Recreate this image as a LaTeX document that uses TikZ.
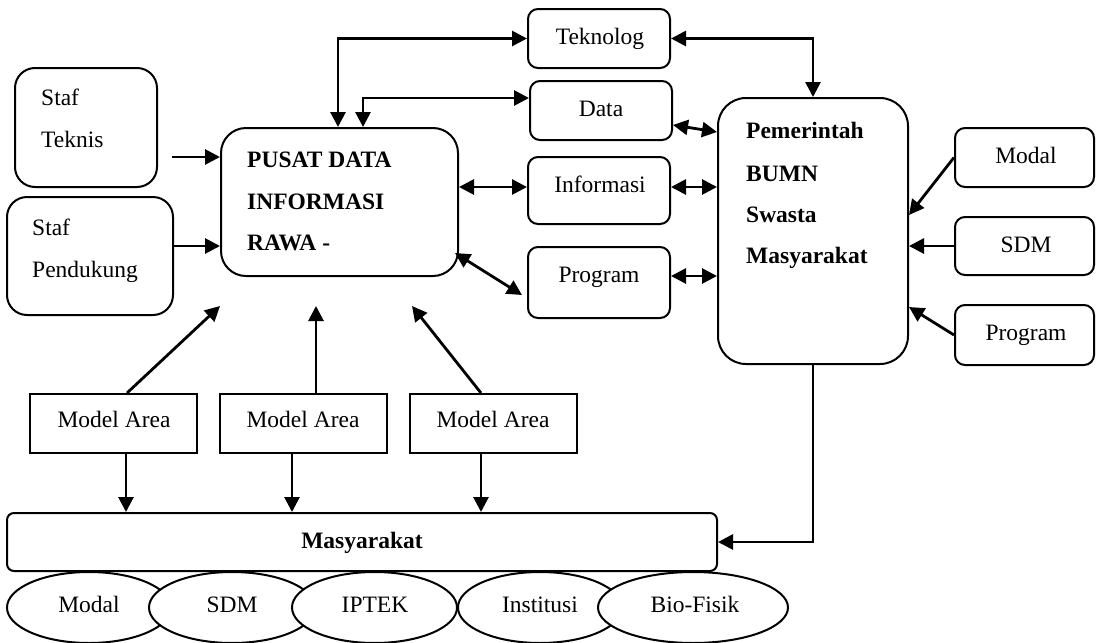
\documentclass[tikz,border=0pt]{standalone}
\usepackage{fontspec}
\setmainfont{Liberation Serif}
\usetikzlibrary{arrows.meta,shapes.geometric}
\begin{document}
\begin{tikzpicture}[x=1pt,y=-1pt,
  box/.style={draw, line width=2pt, inner sep=0pt},
  rbox/.style={box, rounded corners=#1},
  rbox/.default=10pt,
  oval/.style={ellipse, draw, fill=white, line width=2pt, inner sep=0pt, minimum height=71},
  txt/.style={font=\fontsize{23.5}{27}\selectfont, inner sep=0pt},
  btxt/.style={font=\fontsize{23.5}{27}\selectfont\bfseries, inner sep=0pt},
  tip/.tip={Triangle[length=15pt,width=15pt]},
  arr/.style={line width=2.8pt, -tip},
  arrr/.style={line width=2.8pt, tip-tip},
]
\useasboundingbox (0,0) rectangle (1096,643);

% boxes
\node[rbox=20pt, minimum width=142, minimum height=119] (stafT) at (86,127.5) {};
\node[rbox=20pt, minimum width=166, minimum height=118] (stafP) at (90,256) {};
\node[rbox=25pt, minimum width=237, minimum height=148] (pusat) at (339.5,202) {};
\node[rbox, minimum width=142, minimum height=59] (tekno) at (599,38.5) {};
\node[rbox, minimum width=142, minimum height=59] (data) at (601,110.5) {};
\node[rbox, minimum width=142, minimum height=67] (info) at (599,190.5) {};
\node[rbox, minimum width=142, minimum height=71] (prog) at (599,282.5) {};
\node[rbox=28pt, minimum width=190, minimum height=266] (pemer) at (813,231) {};
\node[rbox, minimum width=139, minimum height=59] (modalR) at (1024.5,157.5) {};
\node[rbox, minimum width=139, minimum height=58] (sdmR) at (1024.5,246) {};
\node[rbox, minimum width=139, minimum height=60] (progR) at (1024.5,335) {};
\node[box, minimum width=167, minimum height=59] (ma1) at (113.5,423.5) {};
\node[box, minimum width=167, minimum height=59] (ma2) at (303.5,423.5) {};
\node[box, minimum width=167, minimum height=59] (ma3) at (493.5,423.5) {};
\node[rbox=7pt, minimum width=710, minimum height=58] (masy) at (362,542) {};

% ellipses
\node[oval, minimum width=164] (e1) at (89,607.5) {};
\node[oval, minimum width=166] (e2) at (232,607.5) {};
\node[oval, minimum width=165] (e3) at (374.5,607.5) {};
\node[oval, minimum width=164] (e4) at (540,607.5) {};
\node[oval, minimum width=190] (e5) at (693,607.5) {};

% texts
\node[txt, anchor=base west] (tStaf1) at (41,105) {Staf};
\node[txt, anchor=base west] (tTeknis) at (41,147) {Teknis};
\node[txt, anchor=base west] (tStaf2) at (32,235) {Staf};
\node[txt, anchor=base west] (tPend) at (32,277) {Pendukung};
\node[btxt, anchor=base west] (tP1) at (247,167) {PUSAT DATA};
\node[btxt, anchor=base west] (tP2) at (247,209) {INFORMASI};
\node[btxt, anchor=base west] (tP3) at (247,250) {RAWA -};
\node[btxt, anchor=base west] (tG1) at (746,138) {Pemerintah};
\node[btxt, anchor=base west] (tG2) at (746,181) {BUMN};
\node[btxt, anchor=base west] (tG3) at (746,222) {Swasta};
\node[btxt, anchor=base west] (tG4) at (746,263) {Masyarakat};
\node[txt, anchor=base] (tTek) at (600,44) {Teknolog};
\node[txt, anchor=base] (tData) at (601,116) {Data};
\node[txt, anchor=base] (tInfo) at (600,192) {Informasi};
\node[txt, anchor=base] (tProg) at (599,282) {Program};
\node[txt, anchor=base] (tModR) at (1026,163) {Modal};
\node[txt, anchor=base] (tSdmR) at (1026,252) {SDM};
\node[txt, anchor=base] (tProgR) at (1026,340) {Program};
\node[txt, anchor=base] (tMA1) at (114,427) {Model Area};
\node[txt, anchor=base] (tMA2) at (303,427) {Model Area};
\node[txt, anchor=base] (tMA3) at (493,427) {Model Area};
\node[btxt, anchor=base] (tMasy) at (362,548) {Masyarakat};
\node[txt, anchor=base] (tE1) at (89,612) {Modal};
\node[txt, anchor=base] (tE2) at (232,612) {SDM};
\node[txt, anchor=base] (tE3) at (375,612) {IPTEK};
\node[txt, anchor=base] (tE4) at (540,612) {Institusi};
\node[txt, anchor=base] (tE5) at (695,612) {Bio-Fisik};

% free ends
\coordinate (tsrc) at (172,157);
\coordinate (pusatBR) at (455,253);
\coordinate (progIn) at (522,295);
\coordinate (up1) at (220,306);
\coordinate (up2) at (316,306);
\coordinate (up3) at (412,306);

% connectors
\draw[arr] (tsrc) -- (pusat.west |- tsrc);
\draw[arr] (stafP.east |- 0,246) -- (pusat.west |- 0,246);
\draw[arrr] (pusat.north -| 338,0) |- (tekno.west);
\draw[arrr] (pusat.north -| 363,0) |- (data.west |- 0,98);
\draw[arrr] (tekno.east) -| (pemer.north);
\draw[arrr] (data.east |- 0,125) -- (pemer.west |- 0,132);
\draw[arrr] (pusat.east |- 0,187) -- (info.west |- 0,187);
\draw[arrr] (info.east |- 0,187) -- (pemer.west |- 0,187);
\draw[arrr] (pusatBR) -- (progIn);
\draw[arrr] (prog.east |- 0,276) -- (pemer.west |- 0,276);
\draw[arr] (modalR.west) -- (pemer.east |- 0,215);
\draw[arr] (sdmR.west) -- (pemer.east |- sdmR.west);
\draw[arr] (progR.west) -- (pemer.east |- 0,307);
\draw[arr] (pemer.south) |- (masy.east);
\draw[arr] (ma1.north -| 127,0) -- (up1);
\draw[arr] (ma2.north -| up2) -- (up2);
\draw[arr] (ma3.north -| 481,0) -- (up3);
\draw[arr] (ma1.south -| 126,0) -- (masy.north -| 126,0);
\draw[arr] (ma2.south -| 292,0) -- (masy.north -| 292,0);
\draw[arr] (ma3.south -| 481,0) -- (masy.north -| 481,0);
\end{tikzpicture}
\end{document}
